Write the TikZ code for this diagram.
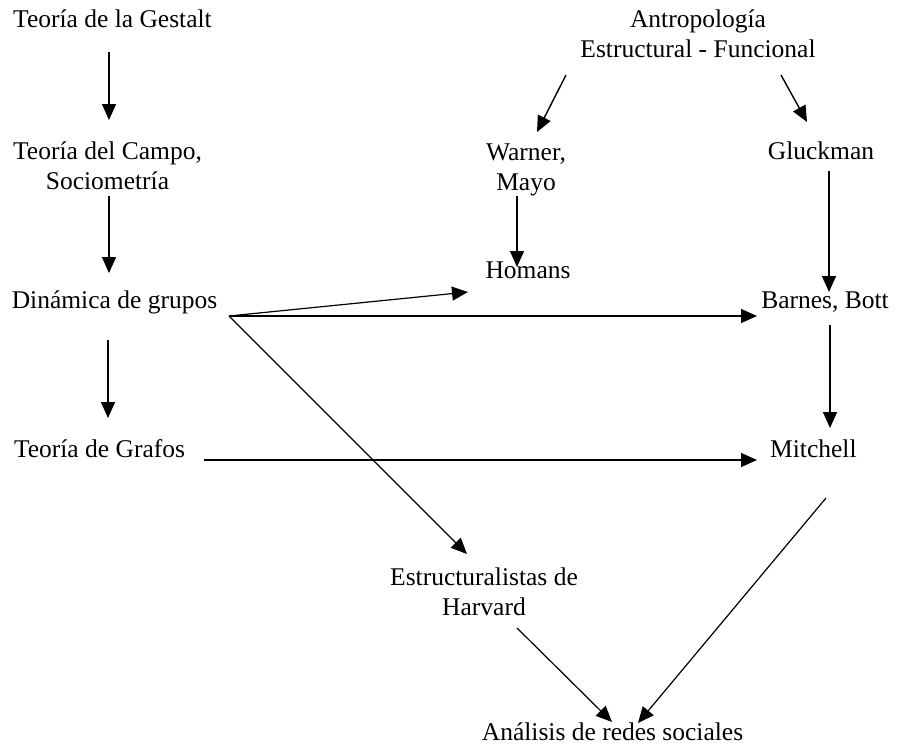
\documentclass[tikz,border=0pt]{standalone}
\usepackage{fontspec}
\setmainfont{Liberation Serif}
\usetikzlibrary{arrows.meta}
\tikzset{
  lbl/.style={inner sep=0pt, anchor=base, align=center,
    font=\fontsize{25.5}{30}\selectfont},
  arr/.style={line width=1.4pt, -{Triangle[length=16pt,width=14pt]}},
}
\begin{document}
\begin{tikzpicture}[x=1pt,y=-1pt]
\useasboundingbox (0,0) rectangle (899,747);

% left column (multi-line nodes sit on the baseline of their last line)
\node[lbl] (gestalt) at (112.5,27) {Teoría de la Gestalt};
\node[lbl] (campo) at (107.5,189) {Teoría del Campo,\\Sociometría};
\node[lbl] (dinamica) at (114.5,308) {Dinámica de grupos};
\node[lbl] (grafos) at (99.5,457) {Teoría de Grafos};

% right branch
\node[lbl] (antro) at (698,57) {Antropología\\Estructural - Funcional};
\node[lbl] (warner) at (526,190) {Warner,\\Mayo};
\node[lbl] (gluck) at (821,159) {Gluckman};
\node[lbl] (homans) at (528,278) {Homans};
\node[lbl] (barnes) at (825,308) {Barnes, Bott};
\node[lbl, anchor=base west] (mitchell) at (770,457) {Mitchell};

% bottom
\node[lbl] (estruct) at (484,615) {Estructuralistas de\\Harvard};
\node[lbl] (analisis) at (612.5,740) {Análisis de redes sociales};

% vertical chain on the left
\draw[arr] ([shift={(-3.5,25)}]gestalt.base) -- ([shift={(1.5,-69)}]campo.base);
\draw[arr] ([shift={(1.5,7)}]campo.base) -- ([shift={(-5.5,-35)}]dinamica.base);
\draw[arr] ([shift={(-6.5,32)}]dinamica.base) -- ([shift={(8.5,-39)}]grafos.base);

% anthropology branch
\draw[arr] ([shift={(-132,18)}]antro.base) -- ([shift={(11,-58)}]warner.base);
\draw[arr] ([shift={(83,18)}]antro.base) -- ([shift={(-14,-37)}]gluck.base);
\draw[arr] ([shift={(-9,6)}]warner.base) -- ([shift={(-11,-11)}]homans.base);
\draw[arr] ([shift={(8,12)}]gluck.base) -- ([shift={(4,-16)}]barnes.base);
\draw[arr] ([shift={(5,17)}]barnes.base) -- ([shift={(60,-29)}]mitchell.base west);

% links out of group dynamics
\coordinate (dsrc) at ([shift={(114.5,8)}]dinamica.base);
\draw[arr, line width=1.2pt] (dsrc) -- ([shift={(-60,14)}]homans.base);
\draw[arr] (dsrc) -- ([shift={(-68,8)}]barnes.base);
\draw[arr, line width=1.2pt] (dsrc) -- ([shift={(-17,-61)}]estruct.base);
\draw[arr] ([shift={(104.5,3)}]grafos.base) -- ([shift={(-13,3)}]mitchell.base west);

% into social network analysis
\draw[arr, line width=1.2pt] ([shift={(33,13)}]estruct.base) -- ([shift={(-0.5,-18)}]analisis.base);
\draw[arr, line width=1.2pt] ([shift={(56,41)}]mitchell.base west) -- ([shift={(25.5,-17)}]analisis.base);
\end{tikzpicture}
\end{document}
